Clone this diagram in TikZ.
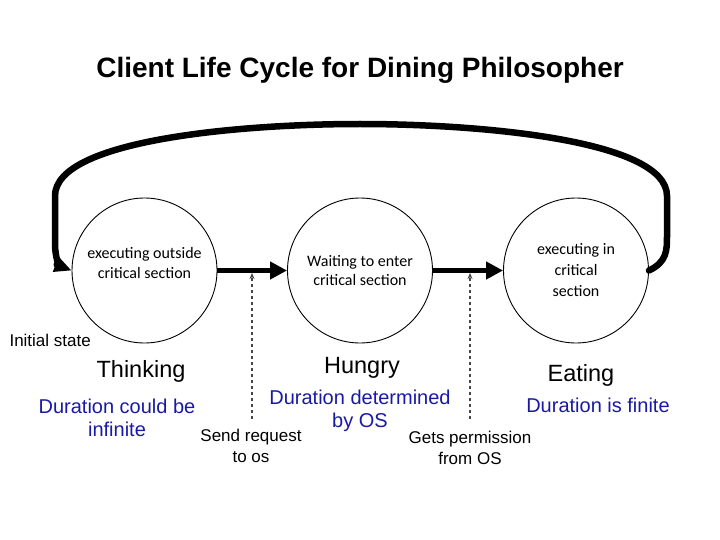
\documentclass[tikz,border=0pt]{standalone}
\usepackage{fontspec}
\setmainfont{Liberation Sans}
\newfontfamily\calibri{Carlito}
\usetikzlibrary{arrows.meta}
\definecolor{durblue}{RGB}{25,25,165}
\definecolor{dashgray}{RGB}{70,70,70}
\tikzset{state/.style={circle, draw, line width=0.9pt, minimum size=145pt, inner sep=0pt, align=center, font=\calibri\fontsize{16}{19.5}\selectfont},
         flow/.style={line width=5.5pt, -{Triangle[length=17pt,width=17pt]}},
         back/.style={line width=6.5pt, line cap=round, -{Triangle[length=17pt,width=15pt]}},
         trigger/.style={dashgray, line width=1.1pt, dash pattern=on 3pt off 3pt, -{Stealth[length=6pt,width=5pt]}},
         phase/.style={font=\fontsize{23.5}{28}\selectfont},
         dur/.style={durblue, align=center, font=\fontsize{20}{23}\selectfont},
         note/.style={align=center, font=\fontsize{17}{20.5}\selectfont}}

\begin{document}
\begin{tikzpicture}[x=1pt,y=-1pt]
   \useasboundingbox (0,0) rectangle (720,540);
   \node[font=\bfseries\fontsize{28}{32}\selectfont] (title) at (360,70) {Client Life Cycle for Dining Philosopher};

   \node[state] (think)  at (144.5,270.5) {executing outside\\critical section\\[-4pt]};
   \node[state] (hungry) at (360,270.5)   {Waiting to enter\\critical section};
   \node[state] (eat)    at (576,270.5)   {executing in\\[1.5pt]critical\\[1.5pt]section};

   \draw[flow] (think.east) -- (hungry.west);
   \draw[flow] (hungry.east) -- (eat.west);
   \draw[back] (eat.east) .. controls (667,262) and (667,250) .. (667,236) -- (667,196)
               .. controls (667,140) and (480,124) .. (360,124)
               .. controls (240,124) and (55,140) .. (55,196) -- (55,244)
               .. controls (55,258) and (60,266) .. (think.west);

   \node[anchor=west, font=\fontsize{17}{20}\selectfont] (init) at (6,340) {Initial state};
   \node[phase] (thinklbl)  at (141,371) {Thinking};
   \node[phase] (hungrylbl) at (362,368) {Hungry};
   \node[phase] (eatlbl)    at (581,375) {Eating};

   \node[dur] (thinkdur)  at (117,418) {Duration could be\\infinite};
   \node[dur] (hungrydur) at (360,411) {Duration determined\\by OS};
   \node[dur] (eatdur)    at (598,405) {Duration is finite};

   \node[note] (send) at (251,446) {Send request\\to os};
   \node[note] (gets) at (470,448) {Gets permission\\from OS};
   \coordinate (sendtop) at (252,273);
   \coordinate (sendbot) at (252,419);
   \coordinate (getstop) at (470,273);
   \coordinate (getsbot) at (470,419);
   \draw[trigger] (sendbot) -- (sendtop);
   \draw[trigger] (getsbot) -- (getstop);
\end{tikzpicture}
\end{document}
